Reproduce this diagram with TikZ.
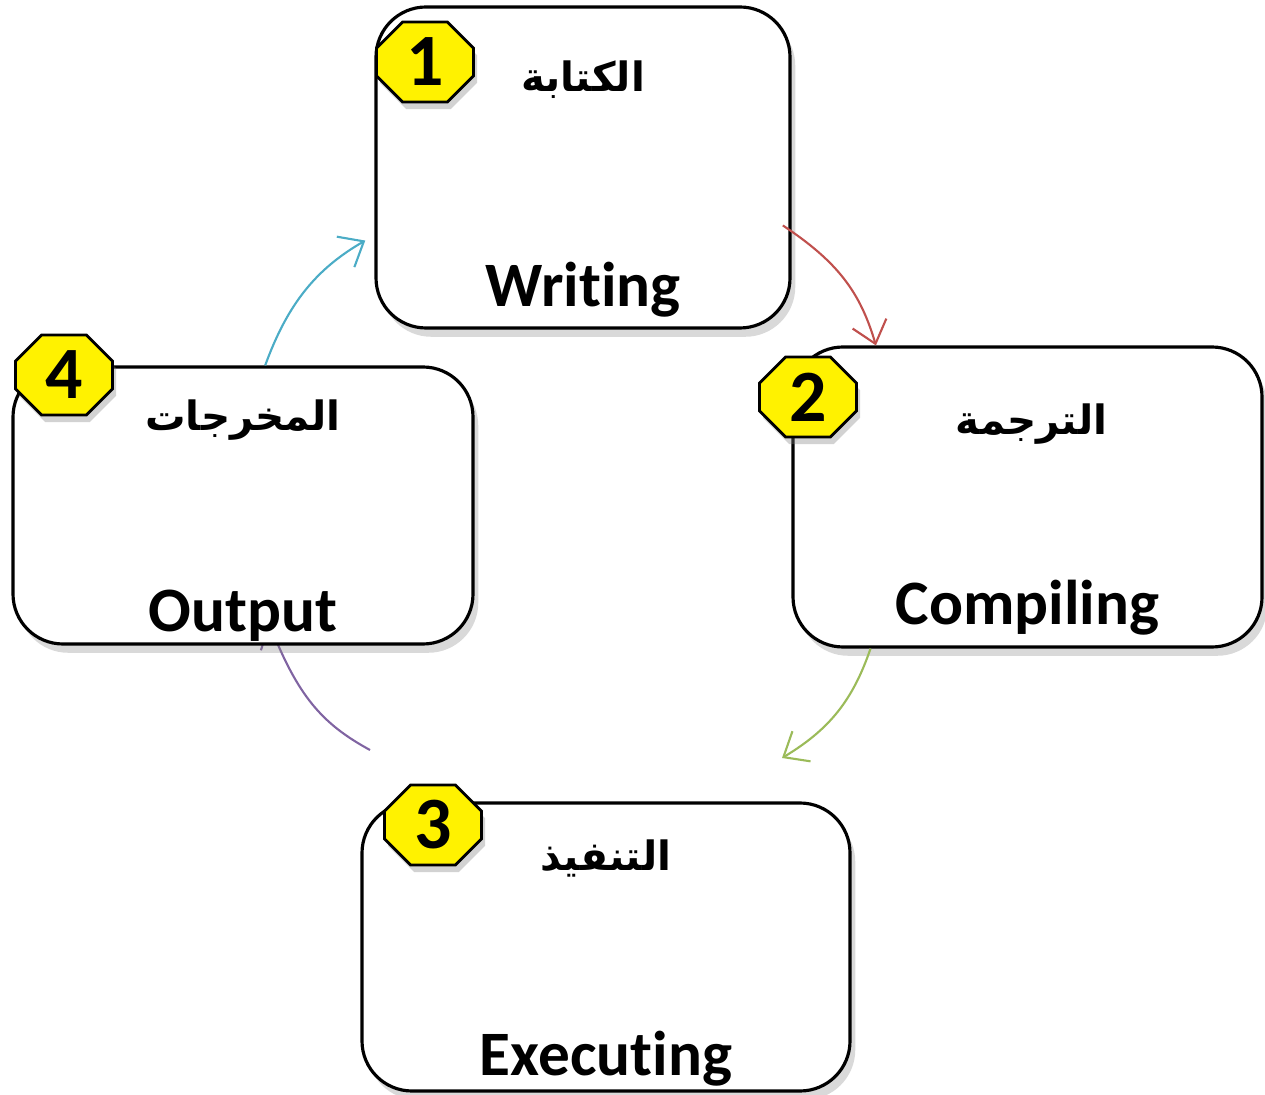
\documentclass[tikz,border=0pt]{standalone}
\usepackage{fontspec}
\setmainfont[Ligatures=NoCommon]{Carlito}
\newfontfamily\arabicfont[Script=Arabic]{DejaVu Sans}
\TeXXeTstate=1
\usetikzlibrary{shapes.misc,shadows,arrows.meta,backgrounds}
\definecolor{arrred}{HTML}{C0504D}
\definecolor{arrgreen}{HTML}{9BBB59}
\definecolor{arrpurple}{HTML}{8064A2}
\definecolor{arrblue}{HTML}{4BACC6}

\begin{document}
\begin{tikzpicture}[
  stage/.style={draw=black,line width=0.9pt,rounded corners=0.5cm,fill=white,
    drop shadow={shadow xshift=1.5pt,shadow yshift=-2.5pt,opacity=0.3}},
  badge/.style={chamfered rectangle,chamfered rectangle xsep=0.15cm,draw=black,line width=0.8pt,
    fill=yellow,inner sep=0pt,minimum width=0.97cm,minimum height=0.8cm,
    font=\fontsize{21}{21}\selectfont\bfseries,
    drop shadow={shadow xshift=1pt,shadow yshift=-2pt,opacity=0.35}},
  entext/.style={anchor=base,font=\fontsize{18}{18}\selectfont\bfseries},
  artext/.style={font=\arabicfont\fontsize{11.5}{11.5}\selectfont\bfseries},
  flow/.style={line width=0.6pt,-{Straight Barb[length=6pt,width=10pt]},bend left=20}
]
\useasboundingbox (0,0) rectangle (12.65,10.94);

% the four stages
\node[stage,minimum width=4.14cm,minimum height=3.21cm] (write) at (5.83,9.265) {};
\node[stage,minimum width=4.69cm,minimum height=3.00cm] (comp) at (10.275,5.97) {};
\node[stage,minimum width=4.60cm,minimum height=2.77cm] (out) at (2.43,5.885) {};
\node[stage,minimum width=4.88cm,minimum height=2.88cm] (exec) at (6.06,1.47) {};

\node[badge] (one) at (4.25,10.32) {1};
\node[badge] (two) at (8.08,6.97) {2};
\node[badge] (three) at (4.33,2.69) {3};
\node[badge] (four) at (0.64,7.19) {4};

\node[artext] (writear) at ([yshift=-0.74cm]write.north) {\beginR الكتابة\endR};
\node[artext] (compar) at ([xshift=0.04cm,yshift=-0.79cm]comp.north) {\beginR الترجمة\endR};
\node[artext] (outar) at ([yshift=-0.55cm]out.north) {\beginR المخرجات\endR};
\node[artext] (execar) at ([yshift=-0.57cm]exec.north) {\beginR التنفيذ\endR};

\node[entext] (writeen) at ([yshift=0.23cm]write.south) {Writing};
\node[entext] (compen) at ([yshift=0.24cm]comp.south) {Compiling};
\node[entext] (outen) at ([yshift=0.14cm]out.south) {Output};
\node[entext] (execen) at ([yshift=0.17cm]exec.south) {Executing};

% the cycle
\coordinate (gtip) at (7.82,3.36);
\coordinate (ptail) at (3.70,3.44);
\draw[flow,arrred,shorten <=-3pt] (write.-17) to (comp.135);
\draw[flow,arrgreen] (comp.-136) to (gtip);
\begin{pgfonlayer}{background}
\draw[flow,arrpurple,shorten >=-7pt] (ptail) to (out.-76);
\end{pgfonlayer}
\draw[flow,arrblue,shorten >=3pt] (out.81) to (write.198);
\end{tikzpicture}
\end{document}
